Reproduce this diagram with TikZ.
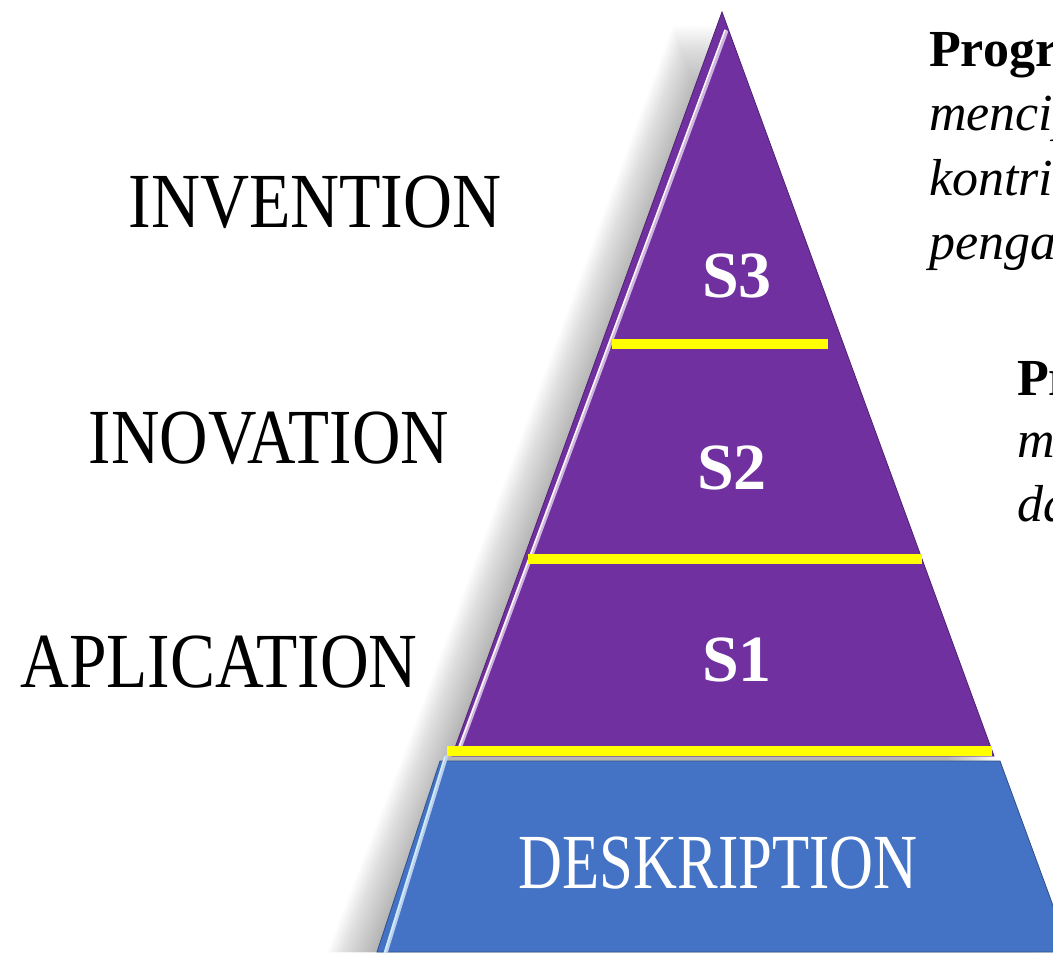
\documentclass[tikz,border=0pt]{standalone}
\usepackage{fontspec}
\setmainfont{Liberation Serif}
\definecolor{pyrpurple}{HTML}{7030A0}
\definecolor{pyrblue}{HTML}{4472C4}
\definecolor{pyryellow}{HTML}{FFFF00}
\tikzset{
  sidelabel/.style={anchor=base, inner sep=0pt, font=\fontsize{78}{90}\selectfont},
  levellabel/.style={anchor=base, inner sep=0pt, text=white, font=\fontsize{66}{70}\selectfont\bfseries},
  bandline/.style={draw=pyryellow, line width=10pt},
  sidetext/.style={anchor=base west, inner sep=0pt, font=\fontsize{52}{60}\selectfont},
}
\begin{document}
\begin{tikzpicture}[x=1pt,y=-1pt]
\useasboundingbox (0,0) rectangle (1053,953);
\clip (0,0) rectangle (1053,953);
% soft shadow
\foreach \i in {1,...,22}{
  \fill[black, opacity=0.014] ([xshift=-2.2*\i pt, yshift=-3pt]722,22) -- ([xshift=-2.2*\i pt]993,750) -- ([xshift=-2.2*\i pt]1070,952) -- ([xshift=-2.2*\i pt]376,952) -- ([xshift=-2.2*\i pt]454,750) -- cycle;
}
% purple triangle
\coordinate (apex) at (722,12);
\coordinate (pl) at (452,756);
\coordinate (pr) at (994,756);
\fill[pyrpurple, draw=pyrpurple!70!black, line width=0.8pt] (apex) -- (pr) -- (pl) -- cycle;
\draw[pyrpurple!35!white, line width=4pt, line cap=round] ([xshift=4pt, yshift=-20pt]apex) -- ([xshift=7pt,yshift=6pt]pl);
\draw[white!85!pink, line width=1.5pt, line cap=round] ([xshift=3pt, yshift=-18pt]apex) -- ([xshift=6pt,yshift=6pt]pl);
% blue trapezoid
\coordinate (bl) at (440,761);
\coordinate (br) at (1000,761);
\coordinate (bbl) at (377,952);
\coordinate (bbr) at (1070,952);
\fill[pyrblue, draw=pyrblue!70!black, line width=0.8pt] (bl) -- (br) -- (bbr) -- (bbl) -- cycle;
\draw[pyrblue!35!white, line width=4pt, line cap=round] ([xshift=6pt, yshift=4pt]bl) -- ([xshift=7pt,yshift=-6pt]bbl);
\draw[white!80!cyan, line width=1.5pt, line cap=round] ([xshift=5pt, yshift=4pt]bl) -- ([xshift=6pt,yshift=-6pt]bbl);
% yellow lines
\coordinate (y1l) at (612,344); \coordinate (y1r) at (828,344);
\coordinate (y2l) at (528,559); \coordinate (y2r) at (922,559);
\coordinate (y3l) at (447,751); \coordinate (y3r) at (992,751);
\draw[bandline] (y1l) -- (y1r);
\draw[bandline] (y2l) -- (y2r);
\draw[bandline] (y3l) -- (y3r);
% level labels
\node[levellabel] (s3) at (737,297) {S3};
\node[levellabel] (s2) at (732,489) {S2};
\node[levellabel] (s1) at (737,681) {S1};
\node[sidelabel, text=white] (desk) at (718,888) {\scalebox{0.78}[1]{DESKRIPTION}};
% side labels
\node[sidelabel] (inv) at (315,227) {\scalebox{0.87}[1]{INVENTION}};
\node[sidelabel] (inov) at (269,463) {\scalebox{0.86}[1]{INOVATION}};
\node[sidelabel] (apl) at (219,687) {\scalebox{0.865}[1]{APLICATION}};
% right texts (cut off by the frame, as in the reference)
\node[sidetext] (t1a) at (929,66) {\textbf{Program Doktor}};
\node[sidetext] (t1b) at (929,130) {\textit{menciptakan}};
\node[sidetext] (t1c) at (929,195) {\textit{kontribusi}};
\node[sidetext] (t1d) at (929,259) {\textit{pengabdian}};
\node[sidetext] (t2a) at (1017,395) {\textbf{Program Magister}};
\node[sidetext] (t2b) at (1017,457) {\textit{mengembangkan}};
\node[sidetext] (t2c) at (1017,521) {\textit{dan}};
\end{tikzpicture}
\end{document}
